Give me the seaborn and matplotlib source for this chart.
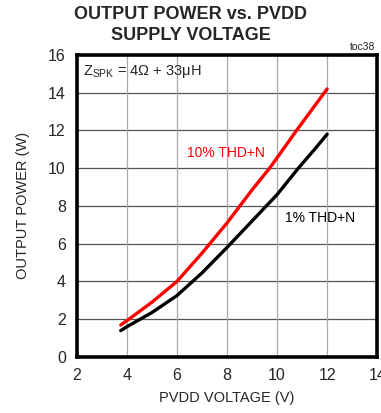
import pandas as pd
import matplotlib.pyplot as plt
import seaborn as sns

volts_10 = [3.75, 4.0, 5.0, 6.0, 7.0, 8.0, 9.0, 9.7, 10.0, 10.75, 11.5, 12.0]
power_10 = [1.69, 1.92, 2.9, 4.0, 5.5, 7.1, 8.85, 10.0, 10.55, 11.95, 13.3, 14.2]
volts_1 = [3.75, 4.0, 5.0, 6.0, 7.0, 8.0, 9.0, 10.0, 10.85, 11.5, 12.0]
power_1 = [1.39, 1.6, 2.35, 3.25, 4.45, 5.8, 7.2, 8.6, 10.0, 11.0, 11.8]
x_ticks = [2, 4, 6, 8, 10, 12, 14]
y_ticks = [0, 2, 4, 6, 8, 10, 12, 14, 16]

df = pd.concat([
    pd.DataFrame({'V': volts_10, 'P': power_10, 'curve': '10% THD+N'}),
    pd.DataFrame({'V': volts_1, 'P': power_1, 'curve': '1% THD+N'}),
])

sns.set_style("white")
plt.rcParams['font.family'] = ['Liberation Sans', 'DejaVu Sans']

fig = plt.figure(figsize=(3.81, 4.13), dpi=100)
ax = fig.add_axes([0.202, 0.136, 0.788, 0.731])

sns.lineplot(data=df, x='V', y='P', hue='curve', palette={'10% THD+N': '#ff0000', '1% THD+N': 'black'},
             linewidth=2.4, legend=False, ax=ax, sort=True)

ax.set_xlim(2, 14)
ax.set_ylim(0, 16)
ax.set_xticks(x_ticks)
ax.set_yticks(y_ticks)
ax.tick_params(length=0, labelsize=11.5, pad=8)
for v in y_ticks:
    ax.axhline(v, color='#555555', lw=0.9, zorder=0)
for v in x_ticks:
    ax.axvline(v, color='#aaaaaa', lw=0.9, zorder=0)
for s in ax.spines.values():
    s.set_visible(True)
    s.set_color('black')
    s.set_linewidth(2.6)

ax.set_xlabel("PVDD VOLTAGE (V)", fontsize=10.5, labelpad=6)
ax.set_ylabel("OUTPUT POWER (W)", fontsize=10.5, labelpad=13)

fig.text(0.5, 0.985, "OUTPUT POWER vs. PVDD\nSUPPLY VOLTAGE", ha='center', va='top',
         fontsize=13, fontweight='semibold', linespacing=1.3)
fig.text(0.985, 0.873, "toc38", ha='right', va='bottom', fontsize=7.5)

ax.text(2.25, 15.55, r"Z$_{\mathregular{SPK}}$ = 4Ω + 33μH", ha='left', va='top', fontsize=10.5)
ax.text(6.4, 10.8, "10% THD+N", color='#ff0000', ha='left', va='center', fontsize=10)
ax.text(10.3, 7.35, "1% THD+N", color='black', ha='left', va='center', fontsize=10)

fig.savefig("out.png", dpi=100)
